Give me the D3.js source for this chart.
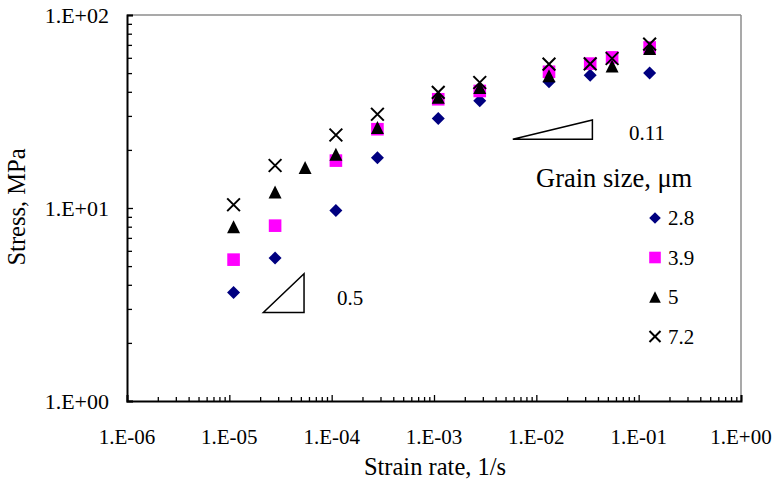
<!DOCTYPE html>
<html>
<head>
<meta charset="utf-8">
<script src="https://cdn.jsdelivr.net/npm/d3@7"></script>
<style>
  html, body { margin: 0; padding: 0; background: #fff; }
  svg { display: block; }
  svg text { font-family: "Liberation Serif", "Times New Roman", Times, serif; fill: #000; }
</style>
</head>
<body>
<svg id="chart" width="775" height="486" font-family="'Liberation Serif', 'Times New Roman', serif"></svg>
<script>
// ---- Data ----
const seriesNames = ["2.8", "3.9", "5", "7.2"];

const rate28   = [1.1e-5, 2.8e-5, 1.1e-4, 2.8e-4, 1.1e-3, 2.8e-3, 1.33e-2, 3.36e-2, 0.128];
const stress28 = [3.65,   5.5,    9.7,    18.2,   29.1,   35.9,   45.1,    48.8,    50.0];

const rate39   = [1.1e-5, 2.8e-5, 1.1e-4, 2.8e-4, 1.1e-3, 2.8e-3, 1.33e-2, 3.36e-2, 5.5e-2, 0.128];
const stress39 = [5.4,    8.1,    17.6,   25.6,   36.6,   40.4,   50.8,    56.0,    60.3,   67.9];

const rate5    = [1.1e-5, 2.8e-5, 5.5e-5, 1.1e-4, 2.8e-4, 1.1e-3, 2.8e-3, 1.33e-2, 5.5e-2, 0.128];
const stress5  = [8.0,    12.1,   16.2,   19.0,   26.1,   37.5,   42.1,   48.4,    54.5,   67.0];

const rate72   = [1.1e-5, 2.8e-5, 1.1e-4, 2.8e-4, 1.1e-3, 2.8e-3, 1.33e-2, 3.36e-2, 5.5e-2, 0.128];
const stress72 = [10.4,   16.6,   23.9,   30.6,   39.7,   44.7,   55.6,    55.8,    59.5,   70.7];

const xTickValues = [1e-6, 1e-5, 1e-4, 1e-3, 1e-2, 1e-1, 1];
const yTickValues = [1, 10, 100];

// slope triangles (data coordinates) and their labels
const slopeTri1 = [[2.15e-5, 2.875], [5.37e-5, 2.875], [5.37e-5, 4.57]];
const slopeLabel1 = "0.5";
const slopeTri2 = [[5.89e-3, 22.7], [3.53e-2, 22.7], [3.53e-2, 28.6]];
const slopeLabel2 = "0.11";

const legendTitle = "Grain size, \u03bcm";
const xTitle = "Strain rate, 1/s";
const yTitle = "Stress, MPa";

// ---- Chart ----
const svg = d3.select("#chart");
const L = 127, R = 741, T = 15, B = 401;

const x = d3.scaleLog().domain([1e-6, 1]).range([L, R]);
const y = d3.scaleLog().domain([1, 100]).range([B, T]);

const fmt = v => {
  const e = Math.round(Math.log10(v));
  return "1.E" + (e < 0 ? "-" : "+") + String(Math.abs(e)).padStart(2, "0");
};

// minor tick values
const xMinor = [];
for (let e = -6; e < 0; e++) for (let m = 2; m <= 9; m++) xMinor.push(m * Math.pow(10, e));
const yMinor = [];
for (let e = 0; e < 2; e++) for (let m = 2; m <= 9; m++) yMinor.push(m * Math.pow(10, e));

// top and right frame (gray)
svg.append("line").attr("x1", L).attr("x2", R).attr("y1", T).attr("y2", T)
  .attr("stroke", "#8c8c8c").attr("stroke-width", 1.5);
svg.append("line").attr("x1", R).attr("x2", R).attr("y1", T).attr("y2", B)
  .attr("stroke", "#8c8c8c").attr("stroke-width", 1.5);

// bottom axis: inward ticks
const xAxisMajor = d3.axisTop(x).tickValues(xTickValues).tickSize(6).tickFormat("");
const xAxisMinor = d3.axisTop(x).tickValues(xMinor).tickSize(4).tickFormat("");
const gxMinor = svg.append("g").attr("transform", `translate(0,${B})`).call(xAxisMinor);
const gx = svg.append("g").attr("transform", `translate(0,${B})`).call(xAxisMajor);
[gx, gxMinor].forEach(g => {
  g.select(".domain").attr("stroke", "#000").attr("stroke-width", 2);
  g.selectAll(".tick line").attr("stroke", "#000").attr("stroke-width", 1.3);
});
gxMinor.select(".domain").remove();

// x tick labels
svg.append("g").selectAll("text").data(xTickValues).join("text")
  .attr("x", d => x(d)).attr("y", 444)
  .attr("text-anchor", "middle")
  .style("font-size", "21px")
  .text(fmt);

// left axis: inward ticks
const yAxisMajor = d3.axisRight(y).tickValues(yTickValues).tickSize(6).tickFormat("");
const yAxisMinor = d3.axisRight(y).tickValues(yMinor).tickSize(5).tickFormat("");
const gyMinor = svg.append("g").attr("transform", `translate(${L},0)`).call(yAxisMinor);
const gy = svg.append("g").attr("transform", `translate(${L},0)`).call(yAxisMajor);
[gy, gyMinor].forEach(g => {
  g.select(".domain").attr("stroke", "#000").attr("stroke-width", 2);
  g.selectAll(".tick line").attr("stroke", "#000").attr("stroke-width", 1.3);
});
gyMinor.select(".domain").remove();

svg.append("g").selectAll("text").data(yTickValues).join("text")
  .attr("x", 109).attr("y", d => y(d) + 8)
  .attr("text-anchor", "end")
  .style("font-size", "22px")
  .text(fmt);

// axis titles
svg.append("text").attr("x", 435).attr("y", 475).attr("text-anchor", "middle")
  .style("font-size", "24.5px").text(xTitle);
svg.append("text").attr("transform", `translate(25,207) rotate(-90)`)
  .attr("text-anchor", "middle").style("font-size", "24.5px").text(yTitle);

// slope triangles
const line = d3.line().x(d => x(d[0])).y(d => y(d[1]));
[[slopeTri1, slopeLabel1, 337, 305], [slopeTri2, slopeLabel2, 629, 140]].forEach(([pts, lab, lx, ly]) => {
  svg.append("path").attr("d", line(pts) + "Z")
    .attr("fill", "none").attr("stroke", "#000").attr("stroke-width", 1.5);
  svg.append("text").attr("x", lx).attr("y", ly).style("font-size", "21px").text(lab);
});

// markers
function drawMarker(g, kind, cx, cy, s) {
  if (kind === 0) {
    g.append("path").attr("d", `M${cx},${cy - s}L${cx + s},${cy}L${cx},${cy + s}L${cx - s},${cy}Z`)
      .attr("fill", "#000080");
  } else if (kind === 1) {
    g.append("rect").attr("x", cx - s).attr("y", cy - s).attr("width", 2 * s).attr("height", 2 * s)
      .attr("fill", "#ff00ff");
  } else if (kind === 2) {
    g.append("path").attr("d", `M${cx},${cy - s}L${cx + s},${cy + s}L${cx - s},${cy + s}Z`)
      .attr("fill", "#000");
  } else {
    const h = s * 0.85;
    g.append("path").attr("d", `M${cx - h},${cy - h}L${cx + h},${cy + h}M${cx - h},${cy + h}L${cx + h},${cy - h}`)
      .attr("stroke", "#000").attr("stroke-width", 2).attr("fill", "none");
  }
}

const series = [
  [rate28, stress28, 0, 6.5],
  [rate39, stress39, 1, 6.3],
  [rate5, stress5, 2, 6.5],
  [rate72, stress72, 3, 7.5]
];
series.forEach(([xs, ys, kind, s]) => {
  const g = svg.append("g");
  xs.forEach((xv, i) => drawMarker(g, kind, x(xv), y(ys[i]), s));
});

// legend
svg.append("text").attr("x", 536).attr("y", 187).style("font-size", "26.5px").text(legendTitle);
const legG = svg.append("g");
seriesNames.forEach((name, i) => {
  const cy = 218 + i * 39.5;
  drawMarker(legG, i, 655, cy, i === 3 ? 6.5 : 5.8);
  legG.append("text").attr("x", 668).attr("y", cy + 7).style("font-size", "21px").text(name);
});
</script>
</body>
</html>
